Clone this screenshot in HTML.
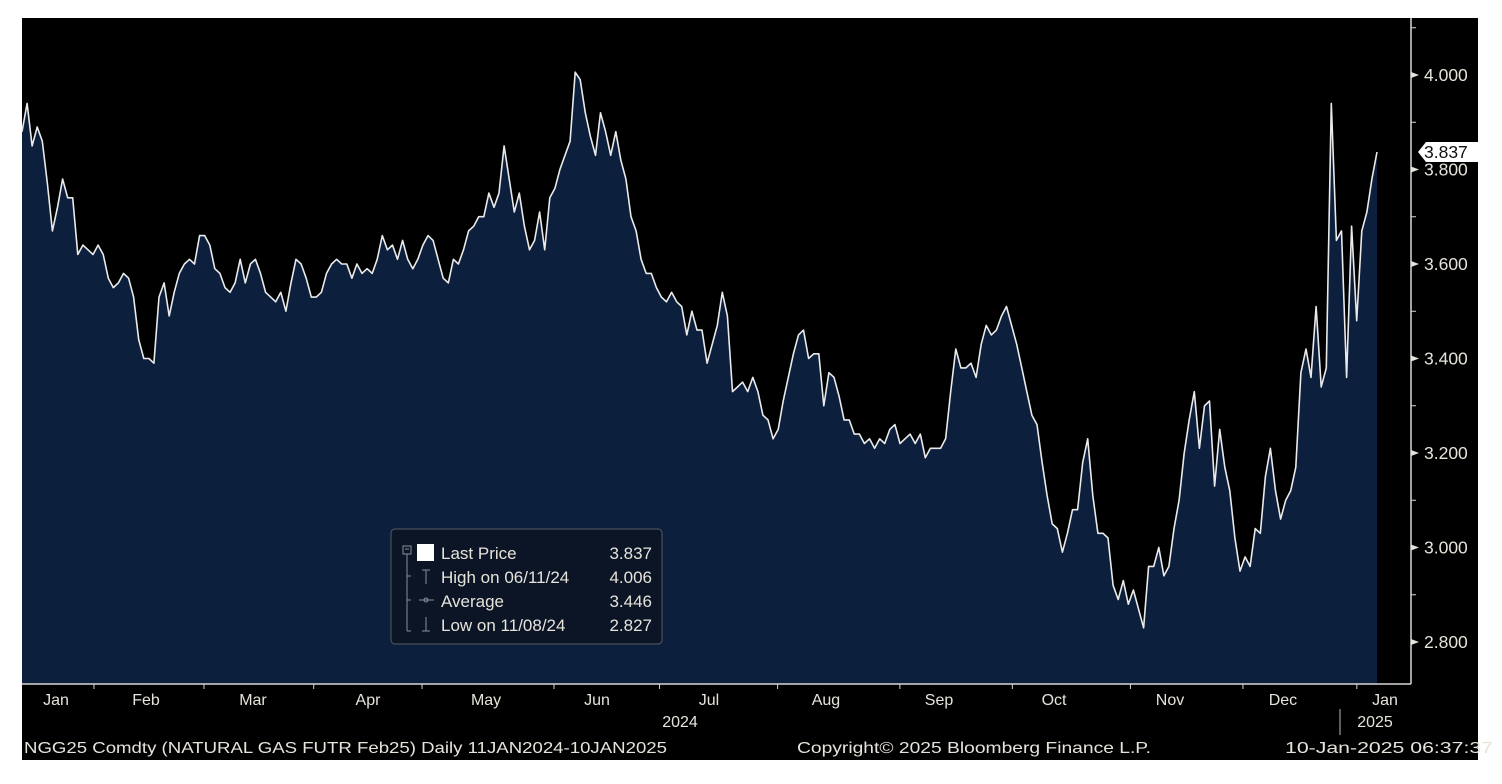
<!DOCTYPE html>
<html><head><meta charset="utf-8">
<style>
html,body{margin:0;padding:0;background:#fff;width:1502px;height:784px;overflow:hidden}
svg{display:block}
text{font-family:"Liberation Sans",sans-serif;fill:#e6e3da}
</style></head>
<body>
<svg id="chart" width="1502" height="784">
  <rect x="22" y="18" width="1456" height="742" fill="#000"/>
  <g id="plot"></g>
  <g id="yaxis"></g>
  <g id="xaxis"></g>
  <g>
    <rect x="391" y="529" width="271" height="115" rx="4" fill="#0b1526" stroke="#4a4f58" stroke-width="1.2"/>
    <g stroke="#8a8f98" stroke-width="1" fill="none">
      <rect x="403" y="546" width="8" height="8"/>
      <line x1="405" y1="549" x2="409" y2="549"/>
      <line x1="407" y1="554" x2="407" y2="631"/>
      <line x1="407" y1="576" x2="411" y2="576"/>
      <line x1="407" y1="600" x2="411" y2="600"/>
      <line x1="407" y1="631" x2="411" y2="631"/>
      <line x1="422" y1="570" x2="430" y2="570"/><line x1="426" y1="570" x2="426" y2="584"/>
      <line x1="419" y1="600" x2="434" y2="600"/><circle cx="426" cy="600" r="2"/>
      <line x1="426" y1="617" x2="426" y2="631"/><line x1="422" y1="631" x2="430" y2="631"/>
    </g>
    <rect x="417" y="544" width="17" height="17" fill="#fff"/>
    <g font-size="17">
      <text x="441" y="559">Last Price</text>
      <text x="652" y="559" text-anchor="end">3.837</text>
      <text x="441" y="583">High on 06/11/24</text>
      <text x="652" y="583" text-anchor="end">4.006</text>
      <text x="441" y="607">Average</text>
      <text x="652" y="607" text-anchor="end">3.446</text>
      <text x="441" y="631">Low on 11/08/24</text>
      <text x="652" y="631" text-anchor="end">2.827</text>
    </g>
  </g>
  <g font-size="16">
    <text x="24" y="753" textLength="643" lengthAdjust="spacingAndGlyphs">NGG25 Comdty (NATURAL GAS FUTR  Feb25)  Daily 11JAN2024-10JAN2025</text>
    <text x="797" y="753" textLength="354" lengthAdjust="spacingAndGlyphs">Copyright© 2025 Bloomberg Finance L.P.</text>
    <text x="1285" y="753" textLength="208" lengthAdjust="spacingAndGlyphs">10-Jan-2025 06:37:37</text>
  </g>
</svg>
<script>
const prices = [3.88,3.94,3.85,3.89,3.86,3.77,3.67,3.72,3.78,3.74,3.74,3.62,3.64,3.63,3.62,3.64,3.62,3.57,3.55,3.56,3.58,3.57,3.53,3.44,3.40,3.40,3.39,3.53,3.56,3.49,3.54,3.58,3.60,3.61,3.60,3.66,3.66,3.64,3.59,3.58,3.55,3.54,3.56,3.61,3.56,3.60,3.61,3.58,3.54,3.53,3.52,3.54,3.50,3.56,3.61,3.60,3.57,3.53,3.53,3.54,3.58,3.60,3.61,3.60,3.60,3.57,3.60,3.58,3.59,3.58,3.61,3.66,3.63,3.64,3.61,3.65,3.61,3.59,3.61,3.64,3.66,3.65,3.61,3.57,3.56,3.61,3.60,3.63,3.67,3.68,3.70,3.70,3.75,3.72,3.75,3.85,3.78,3.71,3.75,3.68,3.63,3.65,3.71,3.63,3.74,3.76,3.80,3.83,3.86,4.006,3.99,3.92,3.87,3.83,3.92,3.88,3.83,3.88,3.82,3.78,3.70,3.67,3.61,3.58,3.58,3.55,3.53,3.52,3.54,3.52,3.51,3.45,3.50,3.46,3.46,3.39,3.43,3.47,3.54,3.49,3.33,3.34,3.35,3.33,3.36,3.33,3.28,3.27,3.23,3.25,3.31,3.36,3.41,3.45,3.46,3.40,3.41,3.41,3.30,3.37,3.36,3.32,3.27,3.27,3.24,3.24,3.22,3.23,3.21,3.23,3.22,3.25,3.26,3.22,3.23,3.24,3.22,3.24,3.19,3.21,3.21,3.21,3.23,3.33,3.42,3.38,3.38,3.39,3.36,3.43,3.47,3.45,3.46,3.49,3.51,3.47,3.43,3.38,3.33,3.28,3.26,3.18,3.11,3.05,3.04,2.99,3.03,3.08,3.08,3.18,3.23,3.11,3.03,3.03,3.02,2.92,2.89,2.93,2.88,2.91,2.87,2.83,2.96,2.96,3.00,2.94,2.96,3.04,3.10,3.20,3.27,3.33,3.21,3.30,3.31,3.13,3.25,3.17,3.12,3.02,2.95,2.98,2.96,3.04,3.03,3.15,3.21,3.12,3.06,3.10,3.12,3.17,3.37,3.42,3.36,3.51,3.34,3.38,3.94,3.65,3.67,3.36,3.68,3.48,3.67,3.71,3.78,3.837];
const yTicks = [2.8,3.0,3.2,3.4,3.6,3.8,4.0];
const yTickLabels = ["2.800","3.000","3.200","3.400","3.600","3.800","4.000"];
const yMinorTicks = [2.9,3.1,3.3,3.5,3.7,3.9,4.1];
const months = ["Jan","Feb","Mar","Apr","May","Jun","Jul","Aug","Sep","Oct","Nov","Dec","Jan"];
const monthTickFrac = [0.0518,0.131,0.210,0.288,0.383,0.459,0.544,0.632,0.713,0.798,0.879,0.961];
const monthLabelFrac = [0.0245,0.0893,0.1663,0.2491,0.3341,0.4140,0.4946,0.5788,0.6602,0.7430,0.8265,0.9078,0.9813];
const lastPrice = 3.837;

const NS="http://www.w3.org/2000/svg";
const X0=22, X1=1377, AX=1411, PT=18, PB=684;
function yScale(v){return 642-(v-2.8)/0.2*94.5;}
function xScale(i){return X0+i*(X1-X0)/(prices.length-1);}
function xFrac(f){return X0+f*(AX-X0);}
function mk(tag,attrs,parent){const e=document.createElementNS(NS,tag);for(const k in attrs)e.setAttribute(k,attrs[k]);parent.appendChild(e);return e;}

const plot=document.getElementById('plot');
let d='M'+xScale(0)+','+PB;
prices.forEach((v,i)=>{d+=' L'+xScale(i).toFixed(1)+','+yScale(v).toFixed(1);});
d+=' L'+xScale(prices.length-1)+','+PB+' Z';
const area=mk('path',{d:d,fill:'#0c1f3d'},plot);


let l='';
prices.forEach((v,i)=>{l+=(i?' L':'M')+xScale(i).toFixed(1)+','+yScale(v).toFixed(1);});
const line=mk('path',{d:l,fill:'none',stroke:'#eaeaea','stroke-width':1.6,'stroke-linejoin':'round'},plot);



const ya=document.getElementById('yaxis');
const yl=mk('line',{x1:AX,y1:PT,x2:AX,y2:PB,stroke:'#d8d8d8','stroke-width':1.5},ya);


yTicks.forEach((v,i)=>{
  const y=yScale(v);
  const tri=mk('path',{d:`M${AX},${y-3} L${AX+8},${y} L${AX},${y+3} Z`,fill:'#e6e3da'},ya);
  
  
  const t=mk('text',{x:AX+13,y:y+6,'font-size':17.5},ya);
  t.textContent=yTickLabels[i];
  
  
});
yMinorTicks.forEach(v=>{
  const y=yScale(v);
  const m=mk('line',{x1:AX,y1:y,x2:AX+5,y2:y,stroke:'#d8d8d8','stroke-width':1},ya);
  
  
});
const ly=yScale(lastPrice);
const tag=mk('path',{d:`M${AX+7},${ly} L${AX+15},${ly-10} L1478,${ly-10} L1478,${ly+10} L${AX+15},${ly+10} Z`,fill:'#fff'},ya);


const tt=mk('text',{x:AX+13,y:ly+6,'font-size':17.5,style:'fill:#111'},ya);
tt.textContent=lastPrice.toFixed(3);



const xa=document.getElementById('xaxis');
const xl=mk('line',{x1:X0,y1:PB,x2:AX,y2:PB,stroke:'#d8d8d8','stroke-width':1.5},xa);


monthTickFrac.forEach(f=>{
  const x=xFrac(f);
  const tk=mk('line',{x1:x,y1:PB,x2:x,y2:PB+5,stroke:'#d8d8d8','stroke-width':1},xa);
  
  
});
months.forEach((m,i)=>{
  const t=mk('text',{x:xFrac(monthLabelFrac[i]),y:705,'font-size':16,'text-anchor':'middle'},xa);
  t.textContent=m;
  
  
});
const y24=mk('text',{x:680,y:727,'font-size':16,'text-anchor':'middle'},xa);
y24.textContent='2024';


const ysep=mk('line',{x1:1340,y1:709,x2:1340,y2:735,stroke:'#bbb','stroke-width':1},xa);


const y25=mk('text',{x:1375,y:727,'font-size':16,'text-anchor':'middle'},xa);
y25.textContent='2025';


</script>
</body></html>
